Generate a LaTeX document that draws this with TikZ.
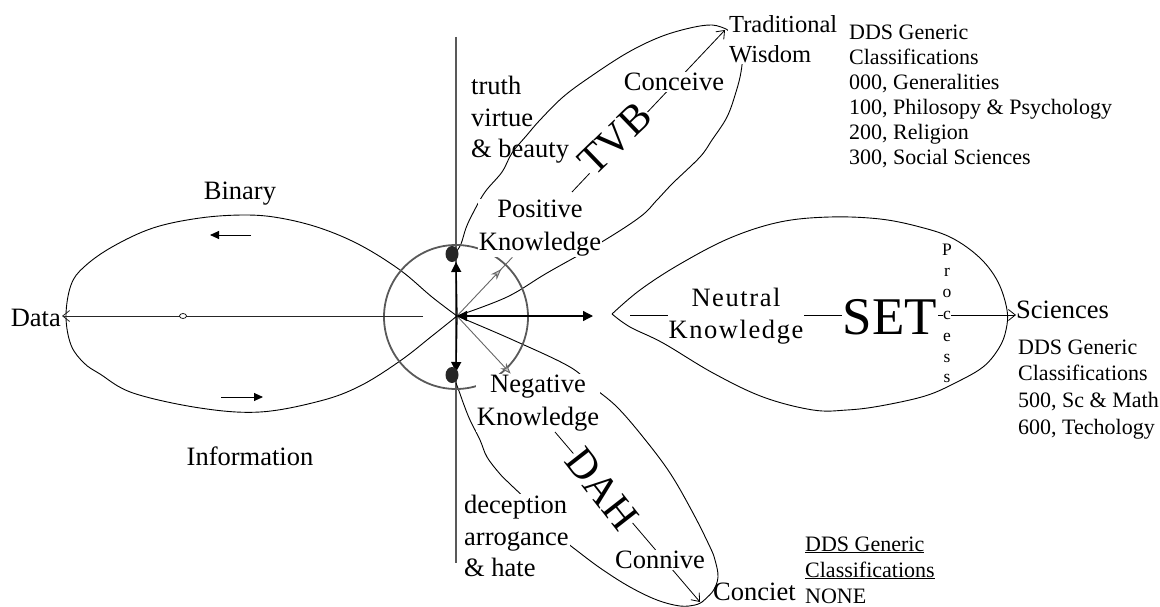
\documentclass[tikz,border=0pt]{standalone}
\usepackage{fontspec}
\setmainfont{Liberation Serif}
\newfontfamily\spacedserif[LetterSpace=6]{Liberation Serif}
\usetikzlibrary{arrows.meta,decorations.markings}

\begin{document}
\begin{tikzpicture}[x=1pt,y=-1pt,
  edge/.style={line width=0.9pt},
  txt/.style={font=\fontsize{26.5}{31.5}\selectfont, inner sep=1pt, align=center},
  wtxt/.style={txt, fill=white},
  listtxt/.style={font=\fontsize{22}{26}\selectfont, inner sep=0pt, anchor=base west},
  barb/.style={-{Straight Barb[length=7pt,width=11pt]}},
  tri/.style={-{Triangle[length=10pt,width=10pt]}},
  grayarrow/.style={draw=gray!80!black, line width=0.9pt},
  graytip/.style={-{Stealth[length=11pt,width=8pt,fill=gray!45]}},
]
\useasboundingbox (0,0) rectangle (1160,607);

\coordinate (c) at (457,316);

% vertical axis
\draw[gray!70!black, line width=1.3pt] (456,37) -- (456,563);

% left loop: data / binary / information
\draw[edge] plot[smooth, tension=0.6] coordinates {
  (457,316) (432,297) (400,270) (360,245) (320,228) (280,218) (245,215)
  (200,218) (153,228) (112,247) (84,267) (71,285) (66,316) (71,345)
  (84,363) (100,374) (133,393) (200,408) (260,412) (320,401) (360,386)
  (400,361) (432,336) (457,316)};

% upper loop: positive knowledge / traditional wisdom
\draw[edge] plot[smooth, tension=0.6] coordinates {
  (456,252) (461,244) (466,228) (473,213) (485,192) (502,172) (512,153)
  (527,135) (540,120) (563,97) (590,77) (627,53) (660,37) (690,28)
  (712,25) (726,29)};
\draw[edge] plot[smooth, tension=0.6] coordinates {
  (726,29) (736,38) (742,55) (741,72) (736,92) (727,117) (712,140)
  (700,157) (673,183) (657,200) (640,217) (600,243) (547,273) (507,297)
  (457,316)};

% lower loop: negative knowledge / conceit
\draw[edge] plot[smooth, tension=0.6] coordinates {
  (456,383) (459,391) (464,405) (470,420) (480,440) (487,457) (500,474)
  (510,484) (537,510) (562,538) (580,553) (603,570) (630,587) (657,600)
  (680,606) (695,605) (702,602)};
\draw[edge] plot[smooth, tension=0.6] coordinates {
  (702,602) (713,591) (718,577) (715,560) (710,547) (693,513) (670,473)
  (643,437) (617,407) (593,387) (570,367) (513,340) (457,316)};

% right loop: neutral knowledge / sciences
\draw[edge] plot[smooth, tension=0.6] coordinates {
  (612,314) (640,290) (680,264) (730,238) (780,222) (830,217) (880,219)
  (920,227) (952,238) (980,258) (998,282) (1007,310) (1006,330) (999,348)
  (983,367) (955,383) (925,396) (880,406) (847,410) (813,410) (763,397)
  (713,373) (663,343) (630,327) (612,314)};

% circle around the centre
\draw[gray!70!black, line width=1.8pt] (456,317) circle [radius=72pt];

% labels of the left loop
\node[txt] (binary) at (240,194) {Binary};
\node[txt] (info) at (250,456) {Information};
\node[txt, anchor=east] (data) at (62,318) {Data};
\coordinate (dstart) at (423,316);
\draw[barb, line width=0.8pt, black!85] (dstart) -- (data.east |- dstart);
\draw[fill=white, line width=0.7pt] (183,316) ellipse [x radius=3.5pt, y radius=2.5pt];
\coordinate (b1) at (251,235); \coordinate (b2) at (210,235);
\draw[line width=0.9pt, -{Triangle[length=9pt,width=8pt]}] (b1) -- (b2);
\coordinate (i1) at (221,397); \coordinate (i2) at (263,397);
\draw[line width=0.9pt, -{Triangle[length=9pt,width=8pt]}] (i1) -- (i2);

% upper loop labels
\node[wtxt, font=\fontsize{26.5}{33}\selectfont] (pk) at (540,228) {Positive\\Knowledge};
\node[txt, align=left, anchor=west] (tvbtext) at (470,120) {truth\\virtue\\\& beauty};
\coordinate (tvbS) at (572,192);
\coordinate (tvbE) at (725,30);
\draw[barb, line width=0.8pt] (tvbS) -- (tvbE);
\node[fill=white, rotate=44, inner sep=0pt, font=\fontsize{42}{42}\selectfont] (tvb) at (615,139) {TVB};
\node[wtxt] (conceive) at (674,82) {Conceive};
\node[wtxt, align=left, anchor=west, font=\fontsize{24.5}{30}\selectfont] (tw) at (728,39) {Traditional\\Wisdom};

% lower loop labels
\node[wtxt, font=\fontsize{26.5}{33}\selectfont] (nk) at (538,403) {Negative\\Knowledge};
\node[wtxt, align=left, anchor=west, inner sep=1pt] (dahtext) at (463,536) {deception\\arrogance\\\& hate};
\coordinate (dahS) at (555,432);
\coordinate (dahE) at (700,602);
\draw[barb, line width=0.8pt] (dahS) -- (dahE);
\node[fill=white, rotate=-52, inner sep=0pt, font=\fontsize{42}{42}\selectfont] (dah) at (602,489) {DAH};
\node[wtxt] (connive) at (660,560) {Connive};
\node[txt, anchor=base west, inner sep=0pt] (conceit) at (713,600) {Conciet};

% right loop labels
\coordinate (setS) at (630,315);
\node[txt, anchor=base west, inner sep=0pt] (sci) at (1016,318) {Sciences};
\draw[barb, line width=0.8pt] (setS) -- (sci.west |- setS);
\node[wtxt, font=\fontsize{26.5}{32}\spacedserif] (nwk) at (736,316) {Neutral\\Knowledge};
\node[fill=white, inner sep=1pt, font=\fontsize{53}{53}\selectfont] (set) at (890,317) {SET};
\foreach \l/\yy [count=\i] in {P/250, r/272, o/293, c/315, e/337, s/358, s/378}
  \node[fill=white, inner sep=0.6pt, font=\fontsize{17.5}{17.5}\selectfont] (proc\i) at (947,\yy) {\l};

% arrows out of the centre
\draw[grayarrow, postaction={decorate}, decoration={markings,
  mark=at position 0.8 with {\arrow{Stealth[length=11pt,width=8pt,fill=gray!45]}}}]
  (c) -- (pk);
\draw[grayarrow, graytip] (c) -- (nk);
\coordinate (up) at (456,262); \coordinate (down) at (456,372);
\coordinate (right) at (593,316);
\draw[tri, line width=1.3pt] (c) -- (up);
\draw[tri, line width=1.3pt] (c) -- (down);
\draw[{Triangle[length=10pt,width=10pt]}-{Triangle[length=10pt,width=10pt]}, line width=1.3pt] (c) -- (right);

% dots on the axis
\fill[black!85] (452,254) ellipse [x radius=6.5pt, y radius=8pt];
\fill[black!85] (452,375) ellipse [x radius=6.5pt, y radius=8pt];

% classification lists
\foreach \t [count=\i] in {DDS Generic, Classifications, {000, Generalities},
    {100, Philosopy \& Psychology}, {200, Religion}, {300, Social Sciences}}
  \node[listtxt] (top\i) at (849,{40+25*(\i-1)}) {\t};
\foreach \t [count=\i] in {DDS Generic, Classifications, {500, Sc \& Math}, {600, Techology}}
  \node[listtxt] (sci\i) at (1018,{354+26.7*(\i-1)}) {\t};
\node[listtxt] (none1) at (805,551) {\underline{DDS Generic}};
\node[listtxt] (none2) at (805,577) {\underline{Classifications}};
\node[listtxt] (none3) at (805,603) {NONE};
\end{tikzpicture}
\end{document}
